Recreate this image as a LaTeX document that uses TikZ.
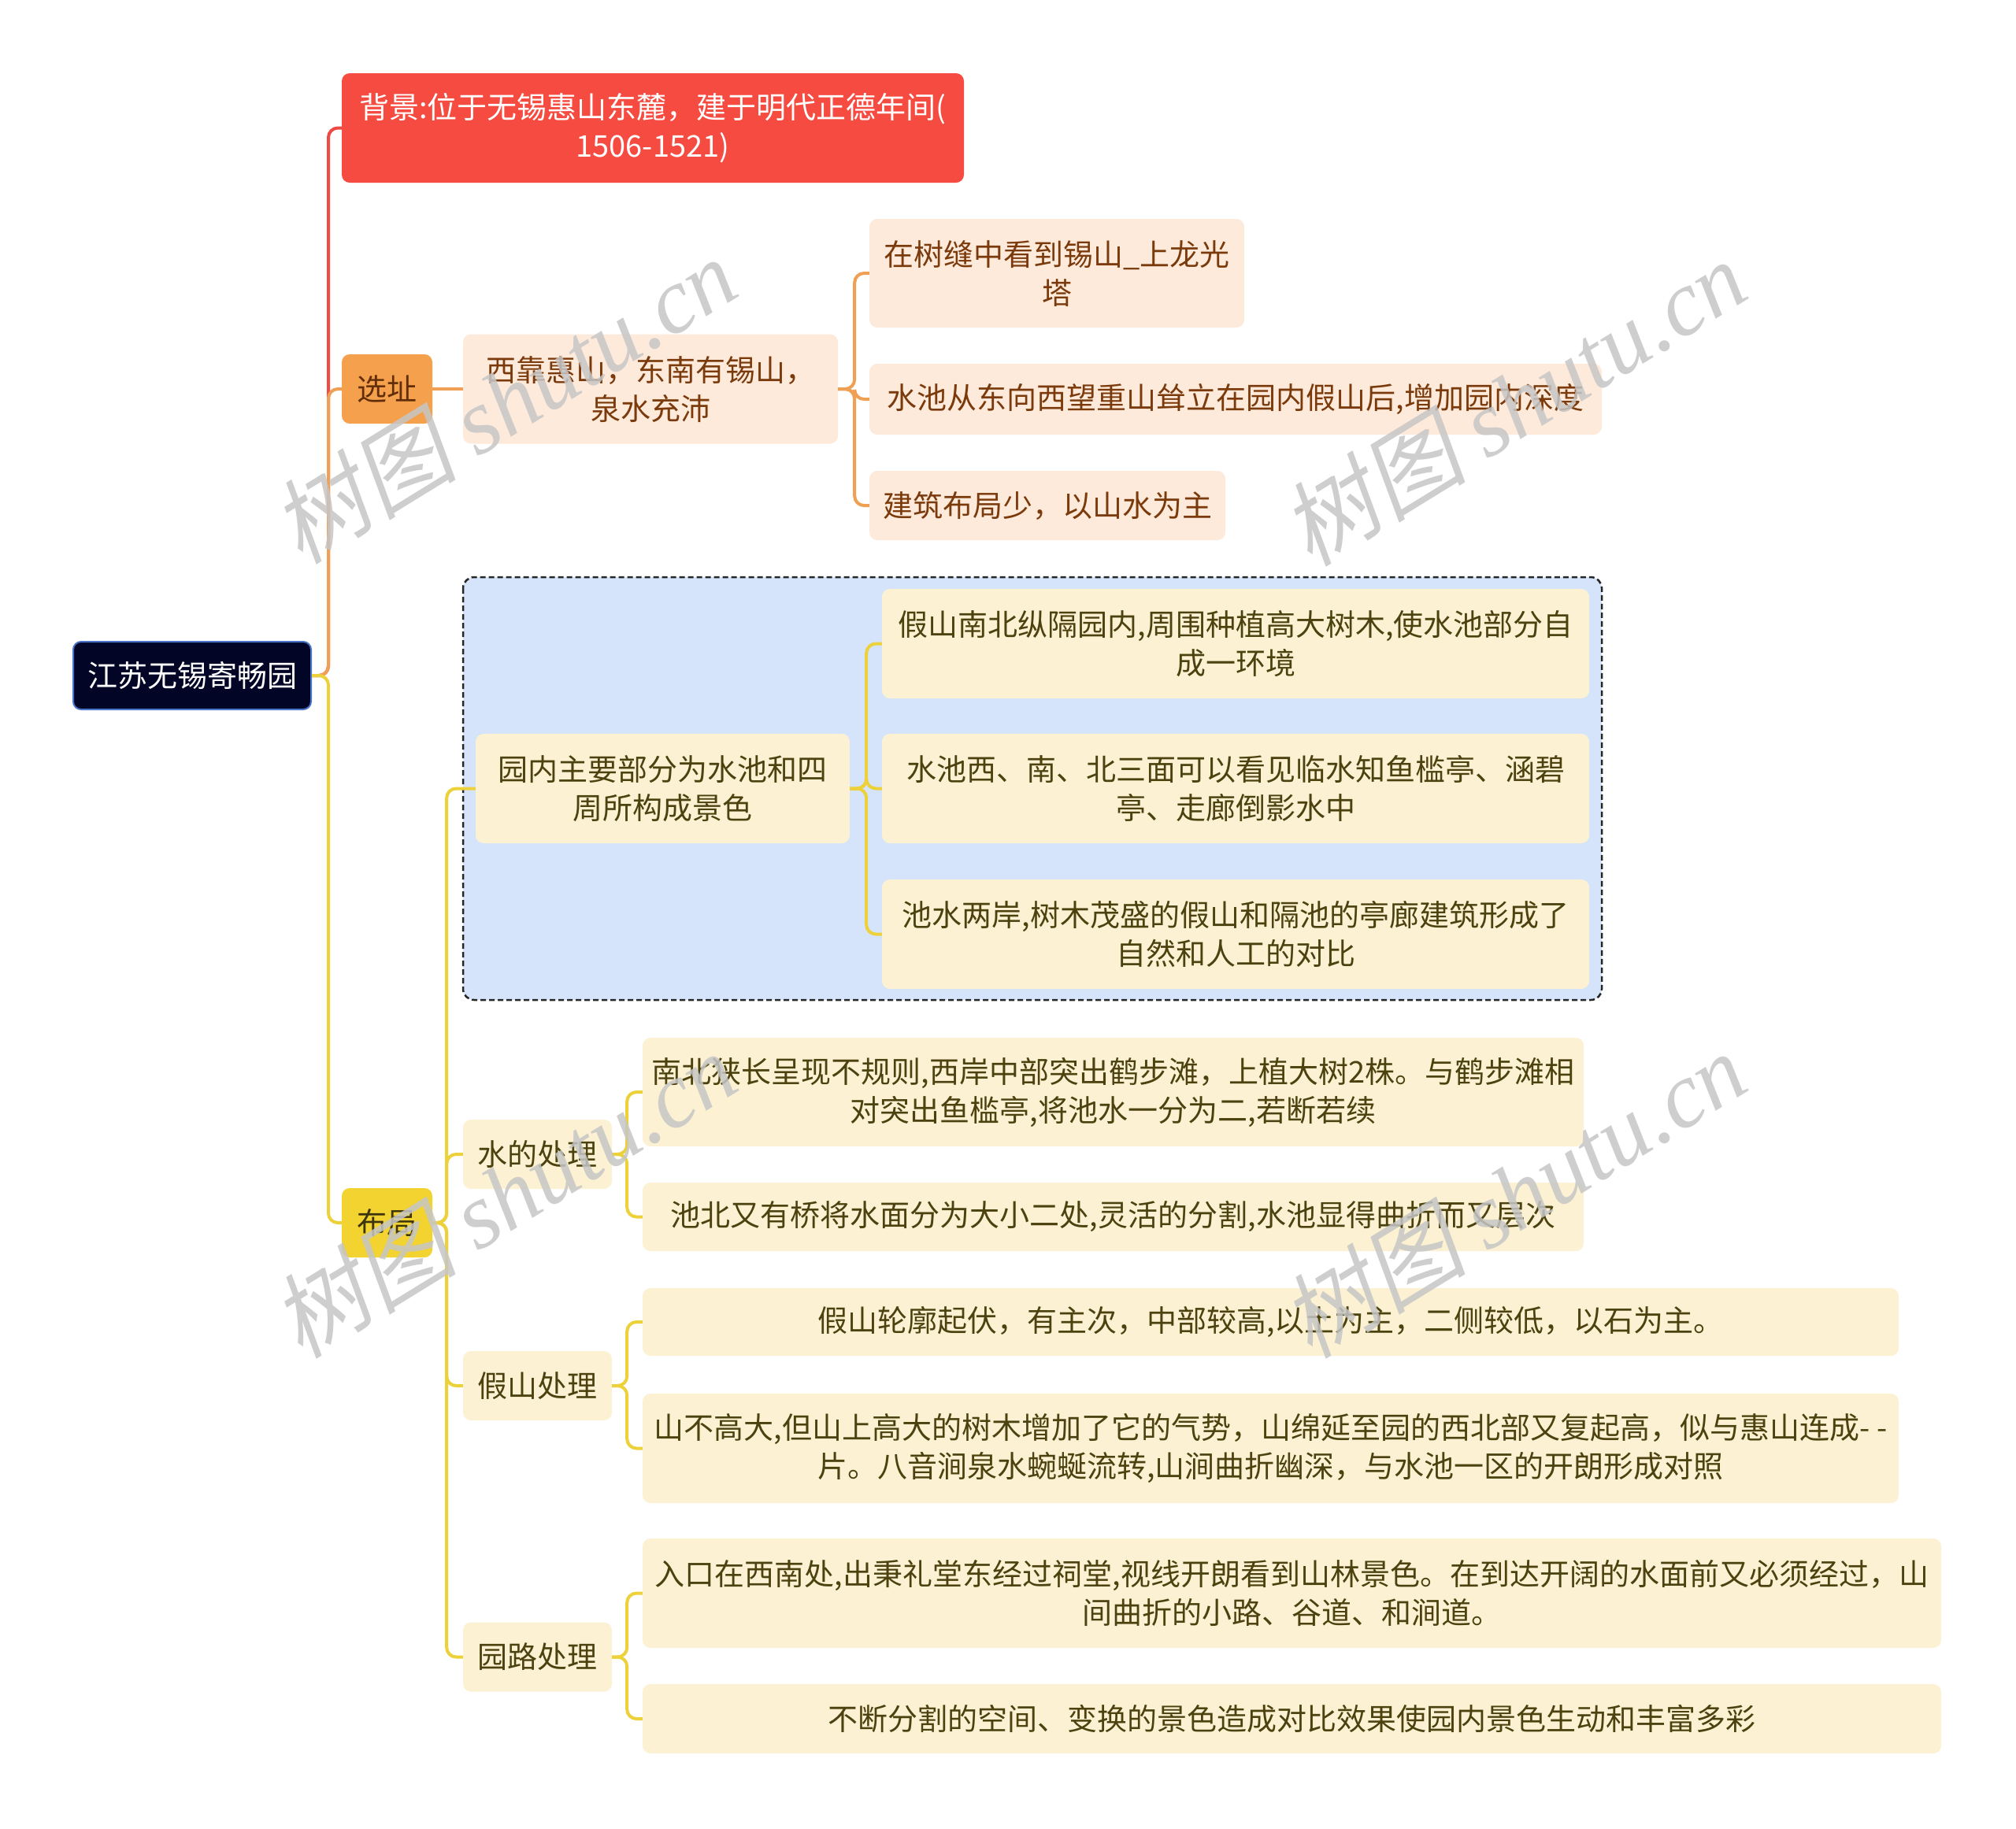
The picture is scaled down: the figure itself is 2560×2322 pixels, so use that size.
\documentclass[tikz,border=0pt]{standalone}
\usepackage{fontspec}
\setmainfont{Noto Sans CJK SC}
\newfontfamily\wmfont{Liberation Serif}
\newfontfamily\wmcjk[FakeSlant=0.2]{Noto Sans CJK SC}
\definecolor{bgred}{HTML}{F64B41}
\definecolor{redline}{HTML}{EE4B45}
\definecolor{orangenode}{HTML}{F4A04C}
\definecolor{orangeline}{HTML}{EFA055}
\definecolor{peach}{HTML}{FDEADB}
\definecolor{browntext}{HTML}{7B3A0B}
\definecolor{yellownode}{HTML}{F2D32F}
\definecolor{yellowline}{HTML}{EDD13A}
\definecolor{lightyellow}{HTML}{FCF2D3}
\definecolor{olivetext}{HTML}{4B420F}
\definecolor{bluefill}{HTML}{D5E4FB}
\definecolor{rootfill}{HTML}{030526}
\definecolor{rootborder}{HTML}{4A74C9}
\definecolor{wmgray}{HTML}{C6C6C6}
\tikzset{
  base/.style={rounded corners=10pt, inner sep=0pt, align=center, font=\fontsize{38pt}{49pt}\selectfont},
  rootbox/.style={base, fill=rootfill, draw=rootborder, line width=2pt, text=white},
  redbox/.style={base, fill=bgred, text=white},
  orangebox/.style={base, fill=orangenode, text=browntext!80!black},
  yellowbox/.style={base, fill=yellownode, text=olivetext!80!black},
  peachbox/.style={base, fill=peach, text=browntext},
  ybox/.style={base, fill=lightyellow, text=olivetext},
  conn/.style={line width=4pt, rounded corners=12pt},
  rline/.style={conn, draw=redline},
  oline/.style={conn, draw=orangeline},
  yline/.style={conn, draw=yellowline},
  wm/.style={text=wmgray, text opacity=0.85, rotate=31.6, inner sep=0pt, font=\fontsize{118pt}{118pt}\selectfont}
}
\begin{document}
\begin{tikzpicture}[x=1pt,y=-1pt]
\useasboundingbox (0,0) rectangle (2560,2322);
\fill[white] (0,0) rectangle (2560,2322);
% group region
\draw[fill=bluefill, draw=black!85, line width=2.5pt, dash pattern=on 7pt off 4pt, rounded corners=14pt] (588,733) rectangle (2034,1270);
% nodes
\node[rootbox, minimum width=302pt, minimum height=86pt] (root) at (244,858) {江苏无锡寄畅园};
\node[redbox, minimum width=790pt, minimum height=139pt] (bg) at (829,162.5) {背景:位于无锡惠山东麓，建于明代正德年间(\\1506-1521)};
\node[orangebox, minimum width=115pt, minimum height=88pt] (xz) at (491.5,494) {选址};
\node[peachbox, minimum width=476pt, minimum height=139pt] (xk) at (826,494) {西靠惠山，东南有锡山，\\泉水充沛};
\node[peachbox, minimum width=476pt, minimum height=138pt] (c1) at (1342,347) {在树缝中看到锡山\_上龙光\\塔};
\node[peachbox, minimum width=930pt, minimum height=90pt] (c2) at (1569,507) {水池从东向西望重山耸立在园内假山后,增加园内深度};
\node[peachbox, minimum width=452pt, minimum height=88pt] (c3) at (1330,642) {建筑布局少，以山水为主};
\node[yellowbox, minimum width=115pt, minimum height=88pt] (bj) at (491.5,1553) {布局};
\node[ybox, minimum width=475pt, minimum height=139pt] (ynzy) at (841.5,1001.5) {园内主要部分为水池和四\\周所构成景色};
\node[ybox, minimum width=898pt, minimum height=139pt] (b1) at (1569,817.5) {假山南北纵隔园内,周围种植高大树木,使水池部分自\\成一环境};
\node[ybox, minimum width=898pt, minimum height=139pt] (b2) at (1569,1001.5) {水池西、南、北三面可以看见临水知鱼槛亭、涵碧\\亭、走廊倒影水中};
\node[ybox, minimum width=898pt, minimum height=139pt] (b3) at (1569,1186.5) {池水两岸,树木茂盛的假山和隔池的亭廊建筑形成了\\自然和人工的对比};
\node[ybox, minimum width=189pt, minimum height=88pt] (sd) at (682.5,1466) {水的处理};
\node[ybox, minimum width=1195pt, minimum height=138pt] (w1) at (1413.5,1387) {南北狭长呈现不规则,西岸中部突出鹤步滩，上植大树2株。与鹤步滩相\\对突出鱼槛亭,将池水一分为二,若断若续};
\node[ybox, minimum width=1195pt, minimum height=87pt] (w2) at (1413.5,1545.5) {池北又有桥将水面分为大小二处,灵活的分割,水池显得曲折而又层次};
\node[ybox, minimum width=189pt, minimum height=88pt] (js) at (682.5,1760) {假山处理};
\node[ybox, minimum width=1595pt, minimum height=86pt] (j1) at (1613.5,1679) {假山轮廓起伏，有主次，中部较高,以土为主，二侧较低，以石为主。};
\node[ybox, minimum width=1595pt, minimum height=139pt] (j2) at (1613.5,1839.5) {山不高大,但山上高大的树木增加了它的气势，山绵延至园的西北部又复起高，似与惠山连成- -\\片。八音涧泉水蜿蜒流转,山涧曲折幽深，与水池一区的开朗形成对照};
\node[ybox, minimum width=189pt, minimum height=88pt] (yl) at (682.5,2104.5) {园路处理};
\node[ybox, minimum width=1649pt, minimum height=139pt] (r1) at (1640.5,2023.5) {入口在西南处,出秉礼堂东经过祠堂,视线开朗看到山林景色。在到达开阔的水面前又必须经过，山\\间曲折的小路、谷道、和涧道。};
\node[ybox, minimum width=1649pt, minimum height=88pt] (r2) at (1640.5,2183) {不断分割的空间、变换的景色造成对比效果使园内景色生动和丰富多彩};
% connectors
\draw[rline] (root.east) -- ++(21,0) |- (bg.west);
\draw[oline] (root.east) -- ++(21,0) |- (xz.west);
\draw[yline] (root.east) -- ++(21,0) |- (bj.west);
\draw[oline] (xz.east) -- (xk.west);
\foreach \c in {c1,c2,c3} \draw[oline] (xk.east) -- ++(21,0) |- (\c.west);
\foreach \c in {ynzy,sd,js,yl} \draw[yline] (bj.east) -- ++(18,0) |- (\c.west);
\foreach \c in {b1,b2,b3} \draw[yline] (ynzy.east) -- ++(21,0) |- (\c.west);
\foreach \c in {w1,w2} \draw[yline] (sd.east) -- ++(19,0) |- (\c.west);
\foreach \c in {j1,j2} \draw[yline] (js.east) -- ++(19,0) |- (\c.west);
\foreach \c in {r1,r2} \draw[yline] (yl.east) -- ++(19,0) |- (\c.west);
% watermarks
\node[wm] (wm1) at (640,508) {\wmcjk 树图 \wmfont\itshape shutu.cn};
\node[wm] (wm2) at (1922,511) {\wmcjk 树图 \wmfont\itshape shutu.cn};
\node[wm] (wm3) at (640,1517) {\wmcjk 树图 \wmfont\itshape shutu.cn};
\node[wm] (wm4) at (1922,1517) {\wmcjk 树图 \wmfont\itshape shutu.cn};
\end{tikzpicture}
\end{document}
